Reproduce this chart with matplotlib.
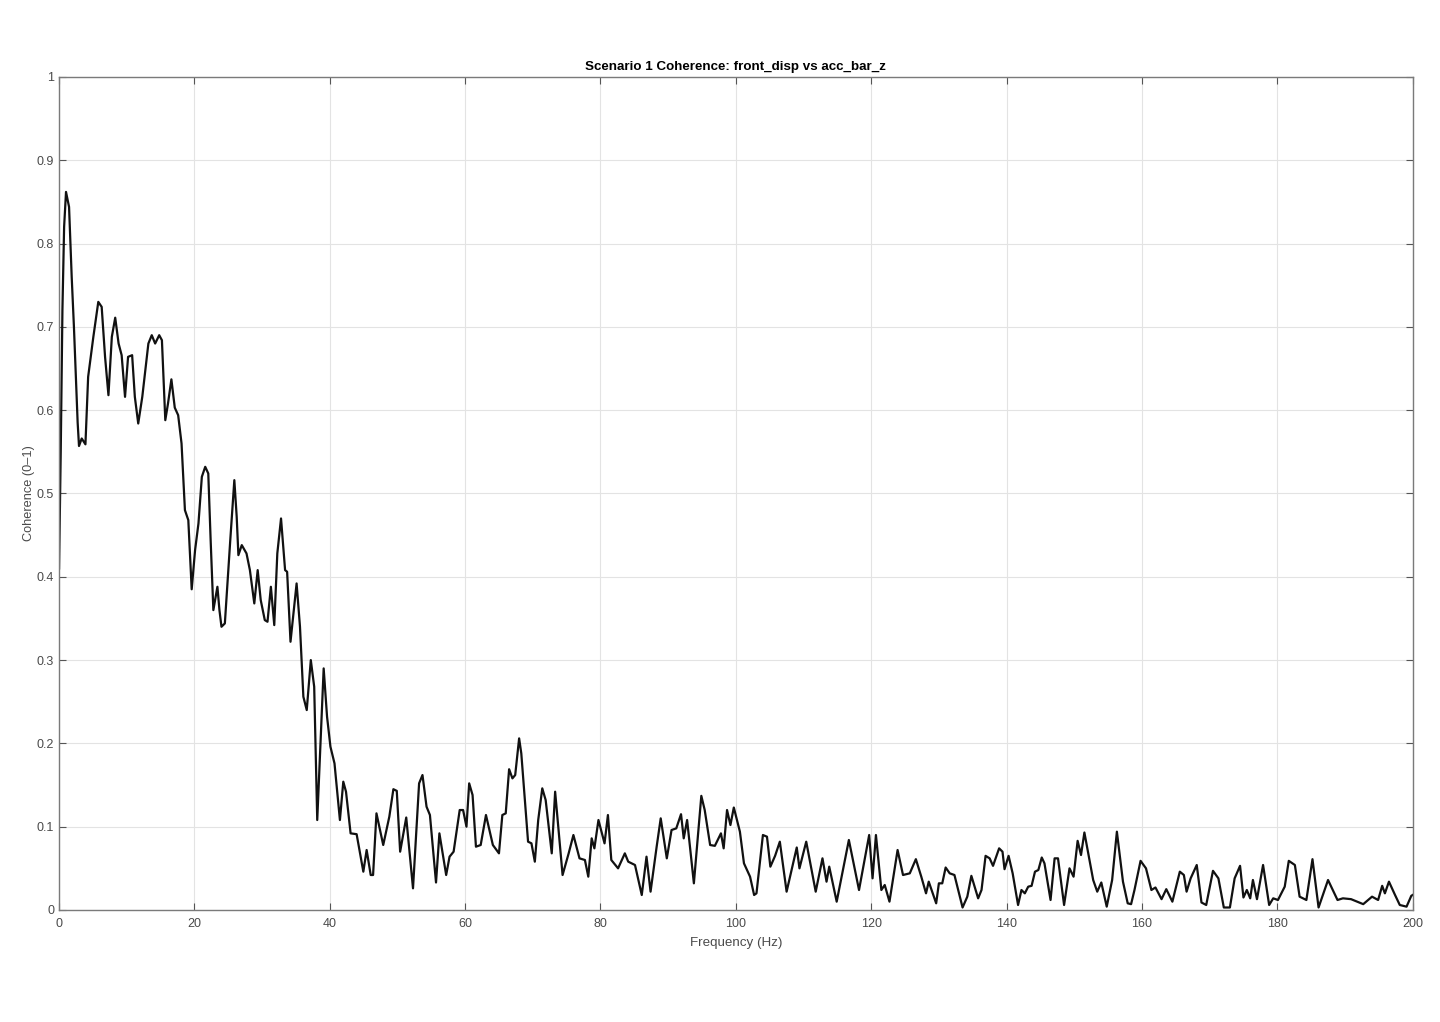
import numpy as np
import matplotlib
matplotlib.use("Agg")
import matplotlib.pyplot as plt

# coherence curve (Hz, coherence)
freq = [0.0, 0.25, 0.5, 0.75, 1.03, 1.48, 1.87, 2.2, 2.75, 2.95, 3.35, 3.9, 4.3, 5.07, 5.8, 6.3,
        6.8, 7.3, 7.8, 8.3, 8.8, 9.25, 9.75, 10.2, 10.8, 11.2, 11.7, 12.3, 13.2, 13.7, 14.2, 14.8,
        15.2, 15.7, 16.1, 16.6, 17.1, 17.6, 18.1, 18.6, 19.1, 19.6, 20.1, 20.6, 21.1, 21.6, 22.05,
        22.4, 22.8, 23.4, 23.7, 24.0, 24.5, 25.3, 25.9, 26.25, 26.5, 27.0, 27.7, 28.2, 28.85, 29.35,
        29.8, 30.4, 30.8, 31.3, 31.8, 32.25, 32.8, 33.4, 33.7, 34.2, 35.1, 35.6, 36.1, 36.6, 37.2,
        37.7, 38.15, 39.1, 39.6, 40.1, 40.7, 41.5, 42.0, 42.4, 43.08, 43.97, 44.96, 45.45, 46.05,
        46.4, 46.9, 47.9, 48.8, 49.4, 49.9, 50.4, 51.3, 52.3, 53.2, 53.7, 54.3, 54.8, 55.7, 56.2,
        57.2, 57.7, 58.3, 59.2, 59.7, 60.2, 60.6, 61.1, 61.6, 62.3, 63.08, 64.1, 65.0, 65.5, 66.0,
        66.5, 66.99, 67.4, 67.98, 68.3, 69.3, 69.8, 70.3, 70.8, 71.4, 71.9, 72.8, 73.3, 73.8, 74.4,
        75.3, 76.0, 76.9, 77.7, 78.2, 78.7, 79.1, 79.7, 80.6, 81.1, 81.6, 82.6, 83.6, 84.1, 85.1,
        86.1, 86.8, 87.4, 88.3, 88.9, 89.8, 90.5, 91.2, 91.9, 92.3, 92.8, 93.8, 94.9, 95.4, 96.2,
        96.9, 97.8, 98.2, 98.7, 99.2, 99.7, 100.6, 101.2, 102.1, 102.7, 103.05, 104.0, 104.6, 105.1,
        105.8, 106.5, 107.5, 109.0, 109.4, 110.4, 111.8, 112.8, 113.4, 113.8, 114.9, 116.7, 118.2,
        119.7, 120.2, 120.7, 121.5, 122.0, 122.7, 123.9, 124.7, 125.7, 126.6, 127.4, 128.1, 128.5,
        129.6, 130.0, 130.5, 131.0, 131.6, 132.3, 133.5, 134.2, 134.8, 135.8, 136.3, 136.9, 137.5,
        138.0, 138.9, 139.4, 139.7, 140.3, 140.9, 141.7, 142.2, 142.7, 143.2, 143.7, 144.2, 144.7,
        145.2, 145.6, 146.5, 147.1, 147.6, 148.5, 149.3, 149.9, 150.5, 151.0, 151.5, 152.8, 153.4,
        154.0, 154.8, 155.6, 156.3, 157.2, 157.9, 158.4, 158.9, 159.8, 160.6, 161.4, 162.0, 162.9,
        163.6, 164.5, 165.6, 166.2, 166.6, 167.2, 168.1, 168.8, 169.5, 170.5, 171.3, 172.1, 173.0,
        173.7, 174.5, 175.0, 175.5, 176.0, 176.4, 177.0, 177.9, 178.8, 179.4, 180.1, 181.1, 181.7,
        182.6, 183.3, 184.3, 185.2, 186.1, 187.5, 188.9, 189.7, 190.9, 192.7, 194.0, 194.9, 195.5,
        195.9, 196.5, 197.4, 198.1, 199.1, 199.8, 200.0]
coh = [0.41, 0.55, 0.72, 0.82, 0.862, 0.844, 0.76, 0.70, 0.585, 0.557, 0.566, 0.559, 0.64, 0.688,
       0.730, 0.724, 0.664, 0.618, 0.688, 0.711, 0.68, 0.666, 0.616, 0.664, 0.666, 0.616, 0.584,
       0.616, 0.680, 0.690, 0.680, 0.690, 0.684, 0.588, 0.608, 0.637, 0.603, 0.594, 0.56, 0.48,
       0.468, 0.385, 0.432, 0.464, 0.52, 0.532, 0.524, 0.444, 0.36, 0.388, 0.36, 0.34, 0.344,
       0.444, 0.516, 0.472, 0.426, 0.438, 0.428, 0.408, 0.368, 0.408, 0.372, 0.348, 0.346, 0.388,
       0.342, 0.428, 0.470, 0.408, 0.406, 0.322, 0.392, 0.34, 0.256, 0.24, 0.30, 0.268, 0.108,
       0.29, 0.232, 0.196, 0.176, 0.108, 0.154, 0.142, 0.092, 0.091, 0.046, 0.072, 0.042, 0.042,
       0.116, 0.078, 0.112, 0.145, 0.143, 0.07, 0.111, 0.026, 0.152, 0.162, 0.124, 0.114, 0.033,
       0.092, 0.042, 0.064, 0.07, 0.12, 0.12, 0.100, 0.152, 0.138, 0.076, 0.078, 0.114, 0.078,
       0.068, 0.114, 0.116, 0.169, 0.158, 0.162, 0.206, 0.188, 0.082, 0.080, 0.058, 0.108, 0.146,
       0.132, 0.068, 0.142, 0.096, 0.042, 0.068, 0.090, 0.062, 0.060, 0.040, 0.086, 0.074, 0.108,
       0.080, 0.114, 0.060, 0.050, 0.068, 0.058, 0.054, 0.018, 0.064, 0.022, 0.076, 0.110, 0.062,
       0.096, 0.098, 0.115, 0.086, 0.108, 0.032, 0.137, 0.12, 0.078, 0.077, 0.092, 0.074, 0.120,
       0.102, 0.123, 0.094, 0.056, 0.040, 0.018, 0.020, 0.090, 0.088, 0.052, 0.065, 0.082, 0.022,
       0.075, 0.050, 0.082, 0.022, 0.062, 0.034, 0.052, 0.010, 0.084, 0.024, 0.090, 0.038, 0.090,
       0.024, 0.030, 0.010, 0.072, 0.042, 0.044, 0.061, 0.040, 0.020, 0.034, 0.008, 0.032, 0.032,
       0.051, 0.044, 0.042, 0.003, 0.016, 0.041, 0.014, 0.024, 0.065, 0.062, 0.053, 0.074, 0.070,
       0.049, 0.065, 0.044, 0.006, 0.024, 0.020, 0.028, 0.029, 0.046, 0.048, 0.063, 0.056, 0.012,
       0.062, 0.062, 0.006, 0.050, 0.040, 0.083, 0.066, 0.093, 0.036, 0.022, 0.033, 0.004, 0.036,
       0.094, 0.034, 0.008, 0.007, 0.024, 0.059, 0.050, 0.024, 0.027, 0.013, 0.025, 0.010, 0.046,
       0.042, 0.022, 0.038, 0.054, 0.009, 0.006, 0.047, 0.038, 0.003, 0.003, 0.038, 0.053, 0.015,
       0.024, 0.014, 0.036, 0.013, 0.054, 0.006, 0.014, 0.012, 0.028, 0.059, 0.054, 0.016, 0.012,
       0.061, 0.003, 0.036, 0.012, 0.014, 0.013, 0.007, 0.016, 0.012, 0.029, 0.020, 0.034, 0.018,
       0.006, 0.004, 0.017, 0.018]

xticks = np.arange(0, 201, 20)
yticks = [0, 0.1, 0.2, 0.3, 0.4, 0.5, 0.6, 0.7, 0.8, 0.9, 1]
ytick_labels = ['0', '0.1', '0.2', '0.3', '0.4', '0.5', '0.6', '0.7', '0.8', '0.9', '1']

plt.rcParams['font.family'] = ['Liberation Sans', 'DejaVu Sans']

fig = plt.figure(figsize=(14.4, 10.22), dpi=100)
ax = fig.add_axes([0.041, 0.1096, 0.94, 0.8151])

ax.plot(freq, coh, color='#111111', linewidth=1.6)

ax.set_xlim(0, 200)
ax.set_ylim(0, 1)
ax.set_xticks(xticks)
ax.set_yticks(yticks)
ax.set_yticklabels(ytick_labels)
ax.grid(True, color='#e3e3e3', linewidth=0.8)
ax.set_axisbelow(True)
ax.tick_params(direction='in', length=5, width=0.8, colors='#555555', labelsize=9,
               top=True, right=True, labelcolor='#4a4a4a')
ax.tick_params(axis='x', pad=6)
for s in ax.spines.values():
    s.set_color('#7a7a7a')
    s.set_linewidth(1.0)

# MATLAB-style title and labels
ax.set_title('Scenario 1 Coherence: front_disp vs acc_bar_z', fontsize=9.6, fontweight='bold',
             pad=5)
ax.set_xlabel('Frequency (Hz)', fontsize=9.6, color='#4a4a4a', labelpad=5)
ax.set_ylabel('Coherence (0\u20131)', fontsize=9.2, color='#4a4a4a', labelpad=1)

fig.savefig('out.png', dpi=100)
